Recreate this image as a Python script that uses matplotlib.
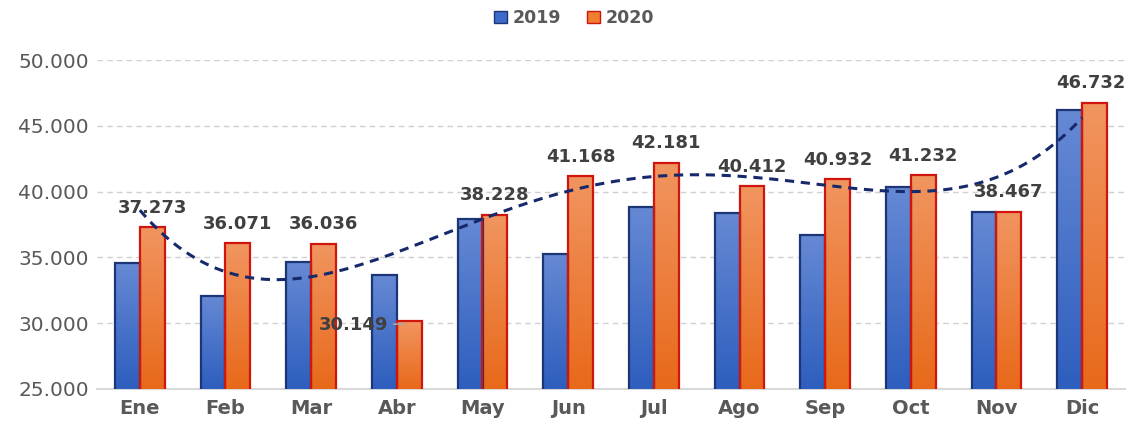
import matplotlib
matplotlib.use('Agg')
import matplotlib.pyplot as plt
import numpy as np
from matplotlib.colors import LinearSegmentedColormap
from matplotlib.patches import Patch

months = ['Ene', 'Feb', 'Mar', 'Abr', 'May', 'Jun', 'Jul', 'Ago', 'Sep', 'Oct', 'Nov', 'Dic']
v2019 = [34600, 32070, 34650, 33660, 37950, 35260, 38830, 38370, 36700, 40380, 38420, 46200]
v2020 = [37273, 36071, 36036, 30149, 38228, 41168, 42181, 40412, 40932, 41232, 38467, 46732]

plt.rcParams['font.family'] = ['DejaVu Sans']

fig = plt.figure(figsize=(11.28, 4.24), dpi=100)
ax = fig.add_axes([97 / 1128, 1 - 389 / 424, 1028 / 1128, 329 / 424])

x = np.arange(len(months))
w = 0.29

cm19 = LinearSegmentedColormap.from_list('c19', ['#2E5EBE', '#6689D4'])
cm20 = LinearSegmentedColormap.from_list('c20', ['#E8691A', '#F19560'])
grad = np.linspace(0, 1, 100).reshape(-1, 1)

bars19 = ax.bar(x - w / 2, v2019, w, bottom=0, facecolor='none', edgecolor='#1C3577', linewidth=1.6, zorder=4)
bars20 = ax.bar(x + w / 2, v2020, w, bottom=0, facecolor='none', edgecolor='#D0140E', linewidth=1.6, zorder=4)

# gradient fill inside each bar
for bars, cmap in ((bars19, cm19), (bars20, cm20)):
    for b in bars:
        x0 = b.get_x()
        x1 = x0 + b.get_width()
        im = ax.imshow(grad, extent=[x0, x1, 25000, b.get_height()], origin='lower',
                       aspect='auto', cmap=cmap, zorder=3)
        im.set_clip_path(b)

# polynomial (order 4) trend line of 2020
coef = np.polyfit(x + 1, v2020, 4)
xs = np.linspace(0, 11, 300)
ax.plot(xs, np.polyval(coef, xs + 1), color='#162A6B', lw=2.2, ls=(0, (3, 2.2)), zorder=5)

# data labels for 2020
for i, v in enumerate(v2020):
    lbl = '{:,}'.format(v).replace(',', '.')
    if months[i] == 'Abr':
        ax.annotate(lbl, xy=(i + w / 2 - 0.03, v - 200), xytext=(i - 0.1, v - 300),
                    ha='right', va='center', fontsize=13, fontweight='bold', color='#404040',
                    arrowprops=dict(arrowstyle='-', color='#A6A6A6', lw=1.2), zorder=6)
    else:
        xt = i + w / 2
        if i == len(v2020) - 1:
            xt -= 0.04
        ax.text(xt, v + 800, lbl, ha='center', va='bottom', fontsize=13,
                fontweight='bold', color='#404040', zorder=6)

ax.set_xlim(-0.5, 11.5)
ax.set_ylim(25000, 50000)
ax.set_yticks(np.arange(25000, 50001, 5000))
ax.set_yticklabels(['{:,}'.format(t).replace(',', '.') for t in range(25000, 50001, 5000)],
                   fontsize=14.5, color='#595959')
ax.set_xticks(x)
ax.set_xticklabels(months, fontsize=14, fontweight='bold', color='#595959')
ax.tick_params(axis='both', length=0)
ax.tick_params(axis='y', pad=6)
ax.tick_params(axis='x', pad=7)
ax.yaxis.grid(True, color='#D0D0D0', ls=(0, (4, 3)), lw=1)
ax.set_axisbelow(True)
for s in ['top', 'right', 'left']:
    ax.spines[s].set_visible(False)
ax.spines['bottom'].set_color('#D9D9D9')
ax.spines['bottom'].set_linewidth(1.5)

handles = [Patch(facecolor='#3F6BC8', edgecolor='#1C3577', label='2019'),
           Patch(facecolor='#F07E30', edgecolor='#D0140E', label='2020')]
fig.legend(handles=handles, loc='center', bbox_to_anchor=(574 / 1128, 1 - 18 / 424), ncol=2, frameon=False,
           prop={'size': 12.5, 'weight': 'bold'}, labelcolor='#595959', handlelength=0.75, handleheight=0.75,
           handletextpad=0.3, columnspacing=1.5)

fig.savefig('out.png', dpi=100)
